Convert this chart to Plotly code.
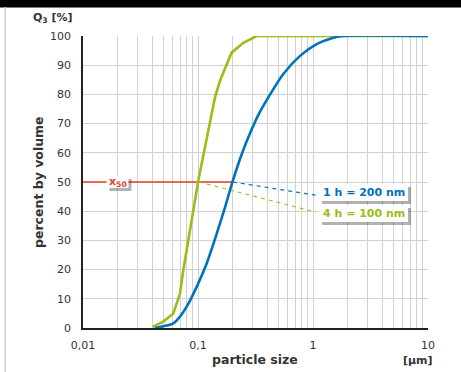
import plotly.graph_objects as go

# ---- data ----
green_x = [0.0404, 0.0499, 0.061, 0.0697, 0.0745, 0.0824, 0.091, 0.1006, 0.123, 0.1406, 0.155, 0.196,
           0.248, 0.324, 10.0]
green_y = [0.4, 2.2, 5, 11.8, 19.8, 30, 39.7, 50.5, 67.6, 79, 84.6, 94.3, 97.7, 100, 100]

blue_x = [0.0423, 0.050, 0.061, 0.070, 0.0797, 0.0974, 0.119, 0.1455, 0.172, 0.2004, 0.24, 0.29, 0.34,
          0.409, 0.552, 0.771, 1.077, 1.455, 1.8, 10.0]
blue_y = [0, 0.6, 1.6, 4, 7.3, 14.1, 22.1, 32.3, 41.4, 50.3, 59.5, 67.6, 73.5, 79, 87, 93.2, 97.2, 99.2,
          100, 100]

x50_level = 50
d50_blue = 0.201
d50_green = 0.102
label_anchor_x = 1.05
label_blue_y = 45.5
label_green_y = 39.7

x_tickvals = [0.01, 0.1, 1, 10]
x_ticktext = ["0,01", "0,1", "1", "10"]
y_tickvals = list(range(0, 101, 10))

BLUE = "rgb(0,114,188)"
GREEN = "rgb(152,191,20)"
RED = "rgb(232,62,40)"
TXT = "#333333"
FONT = "DejaVu Sans, Verdana, sans-serif"

# minor gridline positions for log axis
minor_vals = [m * 10 ** e for e in (-2, -1, 0) for m in range(2, 10)]

fig = go.Figure()

# red x50 line
fig.add_trace(go.Scatter(x=[0.01, d50_blue], y=[x50_level, x50_level], mode="lines",
                         line=dict(color=RED, width=1.5), hoverinfo="skip", showlegend=False))
# dashed leader lines
fig.add_trace(go.Scatter(x=[d50_blue, label_anchor_x], y=[x50_level, label_blue_y], mode="lines",
                         line=dict(color=BLUE, width=1.2, dash="4px,4px"), showlegend=False))
fig.add_trace(go.Scatter(x=[d50_green, label_anchor_x], y=[x50_level, label_green_y], mode="lines",
                         line=dict(color=GREEN, width=1.2, dash="4px,4px"), showlegend=False))
# curves
fig.add_trace(go.Scatter(x=green_x, y=green_y, mode="lines", line=dict(color=GREEN, width=2.6),
                         showlegend=False))
fig.add_trace(go.Scatter(x=blue_x, y=blue_y, mode="lines",
                         line=dict(color=BLUE, width=2.6, shape="spline", smoothing=0.8),
                         showlegend=False))

W, H = 461, 372
L, R, T, B = 83, 33, 36, 44
PW, PH = W - L - R, H - T - B


def px(xp):
    return (xp - L) / PW


def py(yp):
    return (H - B - yp) / PH


shapes = [
    # top black bar
    dict(type="rect", xref="paper", yref="paper", x0=px(-2), x1=px(W + 2), y0=py(7.5), y1=py(-2),
         fillcolor="black", line=dict(width=0), layer="below"),
    # left light border
    dict(type="rect", xref="paper", yref="paper", x0=px(4.5), x1=px(6), y0=py(H + 2), y1=py(7),
         fillcolor="#cfcfcf", line=dict(width=0), layer="below"),
]

annotations = []


def boxed(xc, yc, text, color, w, h):
    # shadow
    shapes.append(dict(type="rect", xref="paper", yref="paper",
                       x0=px(xc - w / 2 + 3), x1=px(xc + w / 2 + 3),
                       y0=py(yc + h / 2 + 3), y1=py(yc - h / 2 + 3),
                       fillcolor="rgba(0,0,0,0.3)", line=dict(width=0), layer="above"))
    shapes.append(dict(type="rect", xref="paper", yref="paper",
                       x0=px(xc - w / 2), x1=px(xc + w / 2),
                       y0=py(yc + h / 2), y1=py(yc - h / 2),
                       fillcolor="white", line=dict(width=0), layer="above"))
    annotations.append(dict(xref="paper", yref="paper", x=px(xc), y=py(yc), text=text,
                            showarrow=False, font=dict(family=FONT, size=11, color=color),
                            xanchor="center", yanchor="middle"))


boxed(117.5, 182, "<b>x<sub>50</sub></b>", RED, 22, 12)
boxed(363.5, 192.5, "<b>1 h = 200 nm</b>", BLUE, 89, 17)
boxed(363.5, 213.5, "<b>4 h = 100 nm</b>", GREEN, 89, 17)

annotations += [
    dict(xref="paper", yref="paper", x=px(53), y=py(18), text="<b>Q<sub>3</sub> [%]</b>",
         showarrow=False, font=dict(family=FONT, size=11, color=TXT), xanchor="center", yanchor="middle"),
    dict(xref="paper", yref="paper", x=px(38), y=py(182), text="<b>percent by volume</b>", textangle=-90,
         showarrow=False, font=dict(family=FONT, size=12.5, color=TXT), xanchor="center", yanchor="middle"),
    dict(xref="paper", yref="paper", x=px(255), y=py(359), text="<b>particle size</b>",
         showarrow=False, font=dict(family=FONT, size=12.5, color=TXT), xanchor="center", yanchor="middle"),
    dict(xref="paper", yref="paper", x=px(418), y=py(360), text="<b>[µm]</b>",
         showarrow=False, font=dict(family=FONT, size=11, color=TXT), xanchor="center", yanchor="middle"),
]

fig.update_layout(
    width=W, height=H,
    margin=dict(l=L, r=R, t=T, b=B),
    paper_bgcolor="white", plot_bgcolor="white",
    font=dict(family=FONT, size=11, color=TXT),
    shapes=shapes, annotations=annotations,
    showlegend=False,
)
fig.update_xaxes(type="log", range=[-2, 1], tickmode="array", tickvals=x_tickvals, ticktext=x_ticktext,
                 showgrid=True, gridcolor="#d2d2d2", gridwidth=1, zeroline=False,
                 minor=dict(tickmode="array", tickvals=minor_vals, showgrid=True,
                            gridcolor="#d2d2d2", gridwidth=1, ticks=""),
                 showline=True, linecolor="#222222", linewidth=1.5, ticks="",
                 ticklabelstandoff=6, tickfont=dict(family=FONT, size=11, color=TXT))
fig.update_yaxes(range=[0, 100], tickmode="array", tickvals=y_tickvals,
                 showgrid=True, gridcolor="#d2d2d2", gridwidth=1, zeroline=False,
                 showline=True, linecolor="#222222", linewidth=1.5, ticks="",
                 ticklabelstandoff=8, tickfont=dict(family=FONT, size=11, color=TXT))

fig.write_html("out.html", config={"displayModeBar": False},
               post_script="document.body.style.margin='0';document.body.style.overflow='hidden';")
